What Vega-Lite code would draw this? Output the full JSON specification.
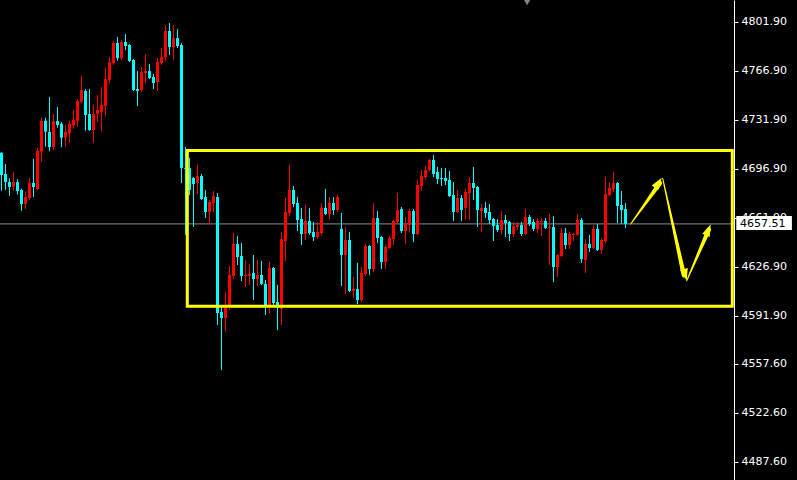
{
  "$schema": "https://vega.github.io/schema/vega-lite/v6.json",
  "width": 734,
  "height": 480,
  "autosize": {"type": "none"},
  "padding": {"left": 0, "top": 0, "right": 63, "bottom": 0},
  "background": "#000000",
  "config": {"view": {"stroke": null}},
  "resolve": {"axis": {"y": "independent", "x": "independent"}},
  "datasets": {
    "candles": [
      {"t":0,"o":4708.4,"h":4708.6,"l":4681.2,"c":4692.4},
      {"t":1,"o":4693.2,"h":4700.3,"l":4681.7,"c":4687.4},
      {"t":2,"o":4687.4,"h":4690.1,"l":4677.6,"c":4683.9},
      {"t":3,"o":4684.1,"h":4694.6,"l":4681.2,"c":4687.4},
      {"t":4,"o":4687.4,"h":4689.4,"l":4678.6,"c":4681.0},
      {"t":5,"o":4681.7,"h":4682.6,"l":4666.9,"c":4671.7},
      {"t":6,"o":4671.7,"h":4680.8,"l":4668.1,"c":4676.7},
      {"t":7,"o":4676.0,"h":4690.3,"l":4674.6,"c":4686.7},
      {"t":8,"o":4686.7,"h":4703.9,"l":4676.7,"c":4683.9},
      {"t":9,"o":4682.4,"h":4711.7,"l":4681.7,"c":4709.6},
      {"t":10,"o":4709.1,"h":4733.4,"l":4701.9,"c":4731.2},
      {"t":11,"o":4731.2,"h":4733.4,"l":4712.7,"c":4723.4},
      {"t":12,"o":4723.2,"h":4748.2,"l":4709.4,"c":4712.4},
      {"t":13,"o":4712.4,"h":4736.0,"l":4710.3,"c":4731.0},
      {"t":14,"o":4731.0,"h":4741.0,"l":4726.2,"c":4728.2},
      {"t":15,"o":4729.1,"h":4730.3,"l":4712.4,"c":4719.1},
      {"t":16,"o":4719.1,"h":4728.2,"l":4712.7,"c":4723.2},
      {"t":17,"o":4722.4,"h":4731.2,"l":4715.5,"c":4729.1},
      {"t":18,"o":4728.0,"h":4738.9,"l":4725.5,"c":4731.9},
      {"t":19,"o":4731.2,"h":4746.7,"l":4727.0,"c":4745.3},
      {"t":20,"o":4744.8,"h":4763.2,"l":4743.9,"c":4753.2},
      {"t":21,"o":4752.5,"h":4753.9,"l":4724.1,"c":4735.3},
      {"t":22,"o":4736.0,"h":4753.9,"l":4723.9,"c":4724.6},
      {"t":23,"o":4724.6,"h":4742.5,"l":4715.5,"c":4736.0},
      {"t":24,"o":4736.0,"h":4749.6,"l":4730.3,"c":4738.9},
      {"t":25,"o":4737.5,"h":4755.3,"l":4723.9,"c":4742.5},
      {"t":26,"o":4741.7,"h":4768.9,"l":4734.6,"c":4761.0},
      {"t":27,"o":4760.3,"h":4776.7,"l":4758.2,"c":4773.2},
      {"t":28,"o":4772.5,"h":4788.2,"l":4771.0,"c":4786.8},
      {"t":29,"o":4786.8,"h":4791.0,"l":4774.1,"c":4776.0},
      {"t":30,"o":4776.0,"h":4788.9,"l":4774.6,"c":4787.5},
      {"t":31,"o":4787.5,"h":4793.2,"l":4781.8,"c":4784.6},
      {"t":32,"o":4785.3,"h":4786.0,"l":4773.2,"c":4773.9},
      {"t":33,"o":4774.6,"h":4775.3,"l":4752.5,"c":4753.2},
      {"t":34,"o":4753.9,"h":4766.7,"l":4741.7,"c":4752.5},
      {"t":35,"o":4753.2,"h":4769.6,"l":4751.7,"c":4766.0},
      {"t":36,"o":4765.3,"h":4778.9,"l":4758.2,"c":4766.7},
      {"t":37,"o":4766.7,"h":4771.7,"l":4761.0,"c":4761.7},
      {"t":38,"o":4762.4,"h":4764.6,"l":4753.9,"c":4758.2},
      {"t":39,"o":4758.9,"h":4776.0,"l":4752.5,"c":4773.2},
      {"t":40,"o":4772.5,"h":4783.2,"l":4771.0,"c":4776.7},
      {"t":41,"o":4776.7,"h":4799.6,"l":4773.9,"c":4795.3},
      {"t":42,"o":4795.3,"h":4801.0,"l":4778.2,"c":4783.9},
      {"t":43,"o":4783.9,"h":4799.6,"l":4774.6,"c":4790.3},
      {"t":44,"o":4790.3,"h":4796.7,"l":4783.2,"c":4784.6},
      {"t":45,"o":4785.3,"h":4786.8,"l":4686.7,"c":4697.4},
      {"t":46,"o":4697.4,"h":4712.4,"l":4649.6,"c":4696.7},
      {"t":47,"o":4697.4,"h":4704.6,"l":4678.1,"c":4681.7},
      {"t":48,"o":4690.3,"h":4691.0,"l":4655.3,"c":4686.0},
      {"t":49,"o":4686.7,"h":4699.6,"l":4678.9,"c":4691.7},
      {"t":50,"o":4691.7,"h":4693.2,"l":4674.6,"c":4675.3},
      {"t":51,"o":4676.7,"h":4681.7,"l":4661.7,"c":4666.0},
      {"t":52,"o":4666.0,"h":4674.6,"l":4656.7,"c":4673.2},
      {"t":53,"o":4672.4,"h":4681.0,"l":4666.0,"c":4677.4},
      {"t":54,"o":4676.7,"h":4679.6,"l":4585.3,"c":4593.8},
      {"t":55,"o":4594.6,"h":4598.1,"l":4553.1,"c":4590.3},
      {"t":56,"o":4590.3,"h":4608.8,"l":4581.0,"c":4597.4},
      {"t":57,"o":4598.1,"h":4627.4,"l":4596.0,"c":4621.0},
      {"t":58,"o":4620.3,"h":4651.0,"l":4618.1,"c":4643.1},
      {"t":59,"o":4643.1,"h":4648.9,"l":4628.1,"c":4633.8},
      {"t":60,"o":4634.6,"h":4643.9,"l":4616.7,"c":4620.3},
      {"t":61,"o":4620.3,"h":4631.7,"l":4612.4,"c":4621.0},
      {"t":62,"o":4620.3,"h":4628.8,"l":4613.8,"c":4621.7},
      {"t":63,"o":4622.4,"h":4635.3,"l":4603.1,"c":4618.1},
      {"t":64,"o":4618.1,"h":4631.7,"l":4613.1,"c":4621.0},
      {"t":65,"o":4621.0,"h":4631.0,"l":4613.8,"c":4614.6},
      {"t":66,"o":4614.6,"h":4617.4,"l":4592.4,"c":4598.8},
      {"t":67,"o":4598.8,"h":4630.3,"l":4593.8,"c":4626.0},
      {"t":68,"o":4626.0,"h":4626.7,"l":4599.6,"c":4601.0},
      {"t":69,"o":4601.7,"h":4613.8,"l":4581.7,"c":4598.1},
      {"t":70,"o":4596.7,"h":4651.7,"l":4585.3,"c":4646.7},
      {"t":71,"o":4645.3,"h":4676.0,"l":4631.0,"c":4666.0},
      {"t":72,"o":4665.3,"h":4699.6,"l":4663.1,"c":4681.7},
      {"t":73,"o":4681.7,"h":4684.6,"l":4669.6,"c":4671.7},
      {"t":74,"o":4672.4,"h":4676.7,"l":4652.4,"c":4660.3},
      {"t":75,"o":4661.0,"h":4668.9,"l":4642.4,"c":4650.3},
      {"t":76,"o":4650.3,"h":4671.0,"l":4646.0,"c":4659.6},
      {"t":77,"o":4659.6,"h":4668.9,"l":4649.6,"c":4651.0},
      {"t":78,"o":4651.7,"h":4658.9,"l":4645.3,"c":4648.1},
      {"t":79,"o":4648.1,"h":4658.9,"l":4646.7,"c":4651.7},
      {"t":80,"o":4651.0,"h":4672.4,"l":4649.6,"c":4668.9},
      {"t":81,"o":4668.9,"h":4682.4,"l":4663.9,"c":4664.6},
      {"t":82,"o":4664.6,"h":4676.7,"l":4661.0,"c":4672.4},
      {"t":83,"o":4672.4,"h":4676.7,"l":4663.9,"c":4667.4},
      {"t":84,"o":4667.4,"h":4678.1,"l":4666.0,"c":4676.7},
      {"t":85,"o":4653.9,"h":4665.3,"l":4613.1,"c":4635.3},
      {"t":86,"o":4635.3,"h":4655.3,"l":4607.4,"c":4646.0},
      {"t":87,"o":4646.0,"h":4651.7,"l":4608.8,"c":4609.6},
      {"t":88,"o":4609.6,"h":4619.6,"l":4604.6,"c":4611.0},
      {"t":89,"o":4611.0,"h":4629.6,"l":4600.3,"c":4603.1},
      {"t":90,"o":4603.1,"h":4626.7,"l":4601.7,"c":4622.4},
      {"t":91,"o":4621.7,"h":4643.1,"l":4620.3,"c":4641.7},
      {"t":92,"o":4641.7,"h":4642.4,"l":4621.0,"c":4625.3},
      {"t":93,"o":4625.3,"h":4672.4,"l":4623.1,"c":4661.7},
      {"t":94,"o":4661.7,"h":4666.7,"l":4643.9,"c":4647.4},
      {"t":95,"o":4648.1,"h":4648.9,"l":4625.3,"c":4630.3},
      {"t":96,"o":4630.3,"h":4642.4,"l":4625.3,"c":4641.0},
      {"t":97,"o":4640.3,"h":4648.9,"l":4639.6,"c":4647.4},
      {"t":98,"o":4646.7,"h":4660.3,"l":4642.4,"c":4659.6},
      {"t":99,"o":4658.9,"h":4679.6,"l":4657.4,"c":4667.4},
      {"t":100,"o":4668.1,"h":4669.6,"l":4651.0,"c":4652.4},
      {"t":101,"o":4652.4,"h":4662.4,"l":4643.1,"c":4657.4},
      {"t":102,"o":4656.7,"h":4668.1,"l":4651.7,"c":4666.7},
      {"t":103,"o":4666.7,"h":4668.1,"l":4644.6,"c":4650.3},
      {"t":104,"o":4650.3,"h":4688.9,"l":4649.6,"c":4685.3},
      {"t":105,"o":4684.6,"h":4696.0,"l":4681.0,"c":4691.7},
      {"t":106,"o":4691.0,"h":4698.9,"l":4689.6,"c":4696.0},
      {"t":107,"o":4696.0,"h":4703.9,"l":4695.3,"c":4703.2},
      {"t":108,"o":4703.2,"h":4706.7,"l":4691.0,"c":4693.2},
      {"t":109,"o":4694.6,"h":4698.2,"l":4686.0,"c":4689.6},
      {"t":110,"o":4690.3,"h":4697.4,"l":4684.6,"c":4689.6},
      {"t":111,"o":4690.3,"h":4697.4,"l":4685.3,"c":4688.2},
      {"t":112,"o":4688.9,"h":4695.3,"l":4676.7,"c":4677.4},
      {"t":113,"o":4678.1,"h":4687.4,"l":4659.6,"c":4666.0},
      {"t":114,"o":4666.0,"h":4681.7,"l":4665.3,"c":4676.0},
      {"t":115,"o":4676.0,"h":4678.1,"l":4659.6,"c":4667.4},
      {"t":116,"o":4668.9,"h":4682.4,"l":4661.0,"c":4680.3},
      {"t":117,"o":4679.6,"h":4691.0,"l":4660.3,"c":4686.7},
      {"t":118,"o":4686.7,"h":4698.2,"l":4674.6,"c":4683.2},
      {"t":119,"o":4683.9,"h":4684.6,"l":4655.3,"c":4667.4},
      {"t":120,"o":4666.7,"h":4671.7,"l":4651.7,"c":4668.9},
      {"t":121,"o":4668.9,"h":4673.2,"l":4661.7,"c":4665.3},
      {"t":122,"o":4666.0,"h":4671.7,"l":4657.4,"c":4660.3},
      {"t":123,"o":4661.0,"h":4661.7,"l":4645.3,"c":4656.0},
      {"t":124,"o":4656.7,"h":4661.0,"l":4651.7,"c":4653.1},
      {"t":125,"o":4653.1,"h":4666.7,"l":4650.3,"c":4660.3},
      {"t":126,"o":4660.3,"h":4663.9,"l":4648.1,"c":4658.1},
      {"t":127,"o":4658.9,"h":4659.6,"l":4645.3,"c":4650.3},
      {"t":128,"o":4650.3,"h":4658.9,"l":4648.1,"c":4656.0},
      {"t":129,"o":4655.3,"h":4658.9,"l":4653.1,"c":4656.7},
      {"t":130,"o":4656.7,"h":4658.9,"l":4648.9,"c":4650.3},
      {"t":131,"o":4650.3,"h":4668.1,"l":4649.6,"c":4662.4},
      {"t":132,"o":4662.4,"h":4663.9,"l":4656.0,"c":4657.4},
      {"t":133,"o":4658.9,"h":4661.0,"l":4652.4,"c":4653.9},
      {"t":134,"o":4653.9,"h":4661.7,"l":4651.0,"c":4659.6},
      {"t":135,"o":4658.9,"h":4661.7,"l":4648.9,"c":4659.6},
      {"t":136,"o":4659.6,"h":4661.7,"l":4653.9,"c":4654.6},
      {"t":137,"o":4654.9,"h":4664.6,"l":4628.1,"c":4655.6},
      {"t":138,"o":4655.3,"h":4663.1,"l":4616.0,"c":4626.7},
      {"t":139,"o":4626.7,"h":4636.0,"l":4619.6,"c":4635.3},
      {"t":140,"o":4634.6,"h":4654.6,"l":4633.8,"c":4651.0},
      {"t":141,"o":4651.0,"h":4654.6,"l":4639.6,"c":4642.4},
      {"t":142,"o":4642.4,"h":4651.7,"l":4639.6,"c":4650.3},
      {"t":143,"o":4649.6,"h":4651.0,"l":4645.3,"c":4650.3},
      {"t":144,"o":4649.6,"h":4664.6,"l":4648.9,"c":4660.3},
      {"t":145,"o":4660.3,"h":4661.7,"l":4629.6,"c":4632.4},
      {"t":146,"o":4631.7,"h":4646.7,"l":4622.4,"c":4643.1},
      {"t":147,"o":4643.1,"h":4649.6,"l":4637.4,"c":4640.3},
      {"t":148,"o":4640.3,"h":4656.7,"l":4639.6,"c":4653.9},
      {"t":149,"o":4653.9,"h":4657.4,"l":4638.1,"c":4638.9},
      {"t":150,"o":4638.9,"h":4647.4,"l":4636.0,"c":4646.0},
      {"t":151,"o":4645.3,"h":4691.0,"l":4643.9,"c":4678.9},
      {"t":152,"o":4678.1,"h":4687.4,"l":4677.4,"c":4683.2},
      {"t":153,"o":4682.4,"h":4694.6,"l":4680.3,"c":4686.7},
      {"t":154,"o":4686.7,"h":4687.4,"l":4658.1,"c":4670.3},
      {"t":155,"o":4671.0,"h":4681.0,"l":4657.4,"c":4667.4},
      {"t":156,"o":4668.1,"h":4672.4,"l":4654.6,"c":4657.5}
    ],
    "arrows": [
      {"arrow":1,"end":"tail","t":157.3,"price":4657.4},
      {"arrow":1,"end":"head","t":164.6,"price":4686.6},
      {"arrow":2,"end":"tail","t":165.3,"price":4690.1},
      {"arrow":2,"end":"head","t":170.6,"price":4620.8},
      {"arrow":3,"end":"tail","t":171.3,"price":4616.9},
      {"arrow":3,"end":"head","t":176.8,"price":4653.3}
    ]
  },
  "layer": [
    {
      "data": {"values": [{"price": 4657.51}]},
      "mark": {"type": "rule", "color": "#8a929a", "strokeWidth": 1},
      "encoding": {
        "y": {
          "field": "price", "type": "quantitative",
          "scale": {"domain": [4474.52, 4817.48], "nice": false, "zero": false, "padding": 0},
          "axis": {
            "orient": "right", "title": null, "grid": false,
            "values": [4801.9, 4766.9, 4731.9, 4696.9, 4661.9, 4626.9, 4591.9, 4557.6, 4522.6, 4487.6],
            "format": ".2f",
            "labelColor": "#ffffff", "labelFont": "DejaVu Sans", "labelFontSize": 11,
            "domainColor": "#ffffff", "domainWidth": 1,
            "tickColor": "#ffffff", "tickSize": 4, "labelPadding": 3
          }
        }
      }
    },
    {
      "data": {"name": "candles"},
      "mark": {"type": "rule", "strokeWidth": 1},
      "encoding": {
        "x": {"field": "t", "type": "quantitative", "scale": {"domain": [-0.375, 183.125], "nice": false, "zero": false, "padding": 0}, "axis": null},
        "y": {"field": "l", "type": "quantitative", "axis": null},
        "y2": {"field": "h"},
        "color": {"condition": {"test": "datum.c > datum.o", "value": "#ff0000"}, "value": "#00ffff"}
      }
    },
    {
      "data": {"name": "candles"},
      "mark": {"type": "bar", "size": 3},
      "encoding": {
        "x": {"field": "t", "type": "quantitative", "axis": null},
        "y": {"field": "o", "type": "quantitative", "axis": null},
        "y2": {"field": "c"},
        "color": {"condition": {"test": "datum.c > datum.o", "value": "#ff0000"}, "value": "#00ffff"}
      }
    },
    {
      "data": {"values": [{"start": 46.45, "end": 182.7, "top": 4709.9, "bottom": 4598.7}]},
      "mark": {"type": "rect", "filled": false, "color": "#ffff00", "strokeWidth": 3},
      "encoding": {
        "x": {"field": "start", "type": "quantitative", "axis": null},
        "x2": {"field": "end"},
        "y": {"field": "top", "type": "quantitative", "axis": null},
        "y2": {"field": "bottom"}
      }
    },
    {
      "data": {"name": "arrows"},
      "mark": {"type": "trail", "color": "#ffff00"},
      "encoding": {
        "x": {"field": "t", "type": "quantitative", "axis": null},
        "y": {"field": "price", "type": "quantitative", "axis": null},
        "detail": {"field": "arrow"},
        "size": {"field": "end", "type": "nominal", "scale": {"domain": ["tail", "head"], "range": [1, 4.5]}, "legend": null}
      }
    },
    {
      "data": {"values": [{"t": 165.05, "price": 4690.5}]},
      "mark": {"type": "point", "shape": "M0,0L-0.8,2.4L0.8,2.4Z", "filled": true, "color": "#ffff00", "size": 100, "angle": 33.5, "opacity": 1},
      "encoding": {
        "x": {"field": "t", "type": "quantitative", "axis": null},
        "y": {"field": "price", "type": "quantitative", "axis": null}
      }
    },
    {
      "data": {"values": [{"t": 171.3, "price": 4616.9}]},
      "mark": {"type": "point", "shape": "M0,0L-0.8,2.4L0.8,2.4Z", "filled": true, "color": "#ffff00", "size": 100, "angle": 166.4, "opacity": 1},
      "encoding": {
        "x": {"field": "t", "type": "quantitative", "axis": null},
        "y": {"field": "price", "type": "quantitative", "axis": null}
      }
    },
    {
      "data": {"values": [{"t": 177.3, "price": 4657.2}]},
      "mark": {"type": "point", "shape": "M0,0L-0.8,2.4L0.8,2.4Z", "filled": true, "color": "#ffff00", "size": 100, "angle": 23.1, "opacity": 1},
      "encoding": {
        "x": {"field": "t", "type": "quantitative", "axis": null},
        "y": {"field": "price", "type": "quantitative", "axis": null}
      }
    },
    {
      "data": {"values": [{"price": 4657.51}]},
      "mark": {"type": "rect", "color": "#ffffff"},
      "encoding": {
        "x": {"datum": 183.7, "type": "quantitative", "axis": null},
        "x2": {"datum": 197.6},
        "y": {"datum": 4663.2, "type": "quantitative", "axis": null},
        "y2": {"datum": 4653.1}
      }
    },
    {
      "data": {"values": [{"price": 4657.51}]},
      "mark": {"type": "text", "color": "#000000", "font": "DejaVu Sans", "fontSize": 11, "align": "left", "baseline": "middle"},
      "encoding": {
        "x": {"datum": 184.6, "type": "quantitative", "axis": null},
        "y": {"field": "price", "type": "quantitative", "axis": null},
        "text": {"field": "price", "type": "quantitative", "format": ".2f"}
      }
    },
    {
      "data": {"values": [{"t": 131.4, "price": 4818.3}]},
      "mark": {"type": "point", "shape": "triangle-down", "filled": true, "color": "#7d8594", "size": 220, "opacity": 1},
      "encoding": {
        "x": {"field": "t", "type": "quantitative", "axis": null},
        "y": {"field": "price", "type": "quantitative", "axis": null}
      }
    }
  ]
}
